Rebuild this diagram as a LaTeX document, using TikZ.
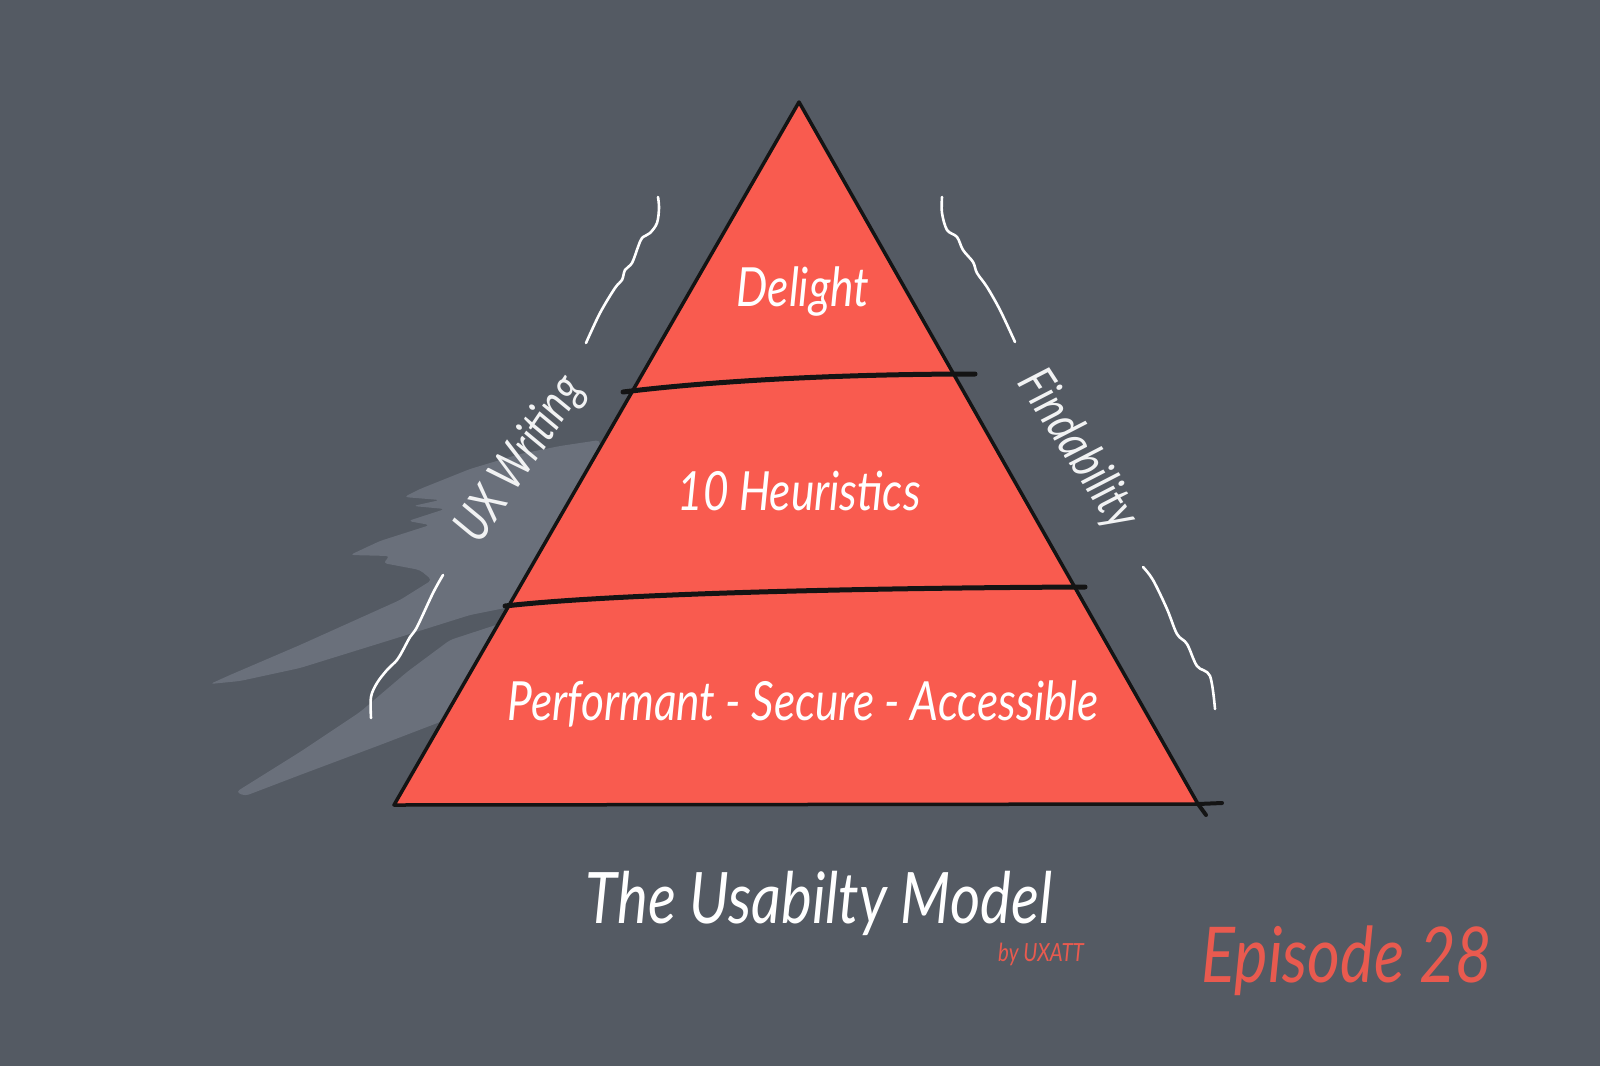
\documentclass[tikz,border=0pt]{standalone}
\usepackage{fontspec}
\usepackage{tikz}
\usetikzlibrary{calc}
\newfontfamily\handfont[FakeStretch=0.82]{Lato}
\definecolor{bggrey}{HTML}{545A63}
\definecolor{shadegrey}{HTML}{6A707B}
\definecolor{pyrred}{HTML}{F95B4F}
\definecolor{epired}{HTML}{E95A4F}
\definecolor{inkblack}{HTML}{141414}
\tikzstyle{pyramid}=[draw=inkblack,line width=3.5pt,fill=pyrred,line join=round]
\tikzstyle{divider}=[draw=inkblack,line width=5pt,line cap=round]
\tikzstyle{brace}=[draw=white,line width=2.6pt,line cap=round,line join=round]
\tikzstyle{shade}=[fill=shadegrey,rounded corners=4pt]
\tikzstyle{layertext}=[text=white,anchor=base,inner sep=0pt,font=\handfont\itshape\fontsize{54}{60}\selectfont]
\tikzstyle{sidetext}=[text=white!92!bggrey,inner sep=0pt,font=\handfont\itshape\fontsize{50}{56}\selectfont]

\begin{document}
\begin{tikzpicture}[x=1pt,y=-1pt]

\useasboundingbox (0,0) rectangle (1600,1066);
\fill[bggrey] (0,0) rectangle (1600,1066);

%brush shadow left of the pyramid
    \fill[shade] (600,440) -- (560,446) -- (520,454) -- (470,469) -- (450,477) -- (420,489) -- (404,497)
        -- (440,500) -- (413,506) -- (445,509) -- (408,521) -- (430,525) -- (380,541) -- (350,555)
        -- (390,556) -- (383,563) -- (420,570) -- (432,580) -- (400,600) -- (300,645) -- (230,675)
        -- (210,684) -- (240,681) -- (300,668) -- (400,637) -- (470,615) -- (510,607) -- (600,520) -- cycle;
    \fill[shade] (236,792) -- (300,752) -- (360,712) -- (407,672) -- (450,640) -- (505,622)
        -- (490,700) -- (440,722) -- (380,745) -- (300,775) -- (245,796) -- cycle;

%pyramid
    \coordinate (apex) at (799,102);
    \coordinate (bl) at (394,805);
    \coordinate (br) at (1198,804);
    \coordinate (brx) at (1222,803);
    \coordinate (bry) at (1206,815);
    \path[pyramid] (apex) -- (bl) -- (br) -- cycle;
    \draw[divider,line width=4pt] (br) -- (brx);
    \draw[divider,line width=4pt] (br) -- (bry);

    % layer dividers
    \coordinate (d1l) at (623,392);
    \coordinate (d1r) at (975,374);
    \coordinate (d2l) at (505,606);
    \coordinate (d2r) at (1085,587);
    \draw[divider] (d1l) .. controls (720,380) and (850,374) .. (d1r);
    \draw[divider] (d2l) .. controls (610,594) and (850,588) .. (d2r);

  \foreach \pos/\name/\label in {{(803,306)/delight/Delight}, {(799,510)/heuristics/10 Heuristics}, {(803,720)/basics/Performant - Secure - Accessible}}
        \node[layertext] (\name) at \pos {\label};

%side labels and braces
    \node[sidetext, rotate=56] (uxw) at (521,460) {UX Writing};
    \node[sidetext, rotate=-57] (find) at (1077,450) {Findability};

    \draw[brace] plot[smooth,tension=0.55] coordinates {(658,197) (659,208) (657,223) (650,233) (642,238) (638,247) (632,263) (625,270) (622,280) (615,288) (600,313) (586,343)};
    \draw[brace] plot[smooth,tension=0.55] coordinates {(443,575) (433,593) (417,627) (410,637) (403,650) (397,660) (387,670) (377,683) (371,697) (371,718)};
    \draw[brace] plot[smooth,tension=0.55] coordinates {(942,197) (942,213) (947,230) (957,237) (963,250) (973,262) (977,273) (987,287) (1000,310) (1015,342)};
    \draw[brace] plot[smooth,tension=0.55] coordinates {(1143,567) (1153,580) (1167,609) (1177,634) (1187,644) (1197,666) (1210,676) (1215,709)};

%title
    \node[layertext, font=\handfont\itshape\fontsize{71}{77}\selectfont] (title) at (819,923) {The Usabilty Model};
    \node[layertext, text=epired, font=\handfont\itshape\fontsize{25}{28}\selectfont] (byline) at (1041,961) {by UXATT};
    \node[layertext, text=epired, font=\handfont\itshape\fontsize{77}{83}\selectfont] (episode) at (1347,982) {Episode 28};

\end{tikzpicture}
\end{document}
